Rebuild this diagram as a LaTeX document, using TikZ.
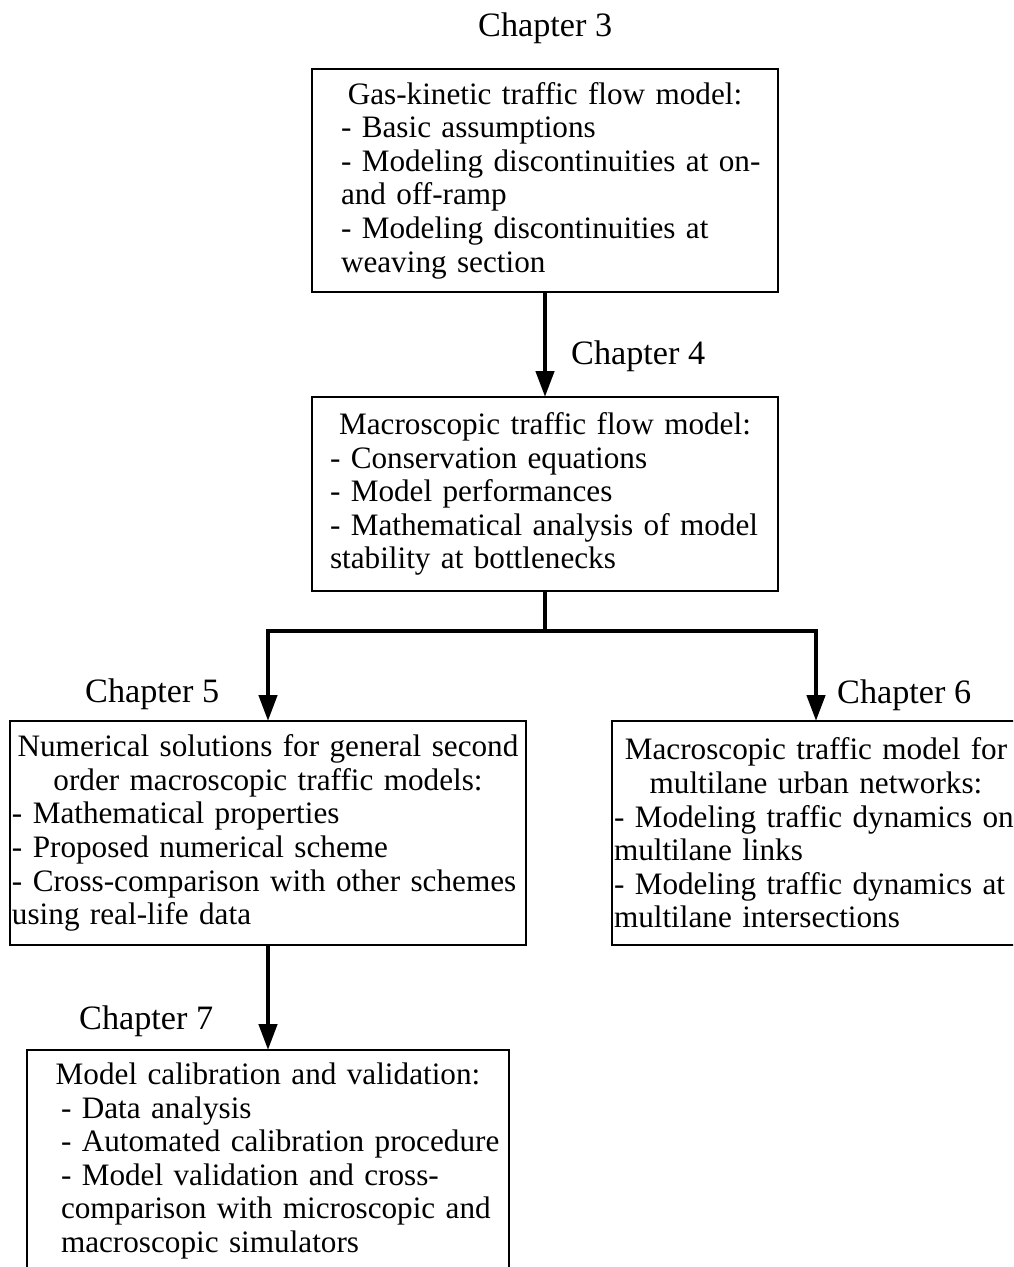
\documentclass[tikz,border=0pt]{standalone}
\usepackage{fontspec}
\setmainfont{Liberation Serif}
\usetikzlibrary{arrows.meta}
\tikzset{
  box/.style={draw, line width=2.8pt, rectangle, inner ysep=0pt, outer sep=0pt, align=left,
              font=\fontsize{31.2pt}{33.6pt}\selectfont},
  chap/.style={inner sep=0pt, anchor=base west, font=\fontsize{34.2pt}{36pt}\selectfont},
  conn/.style={line width=4.5pt},
  arr/.style={line width=4.5pt, -{Triangle[length=26pt,width=18pt]}},
  darr/.style={line width=4.5pt, {Triangle[length=26pt,width=18pt]}-{Triangle[length=26pt,width=18pt]}}
}
\newcommand{\ttl}[1]{\noindent\makebox[\hsize][c]{#1}}
\newcommand{\lft}[1]{\noindent\mbox{#1}}
\begin{document}
\begin{tikzpicture}[x=1pt,y=-1pt]
\useasboundingbox (0,0) rectangle (1013,1267);
\clip (0,0) rectangle (1013,1267);
\fill[white] (0,0) rectangle (1013,1267);

\node[box, anchor=north west, minimum width=466pt, minimum height=223pt,
      text width=408pt, inner xsep=0pt] (b1) at (312,69)
  {\ttl{Gas-kinetic traffic flow model:}\\
   \lft{- Basic assumptions}\\
   \lft{- Modeling discontinuities at on-}\\
   \lft{and off-ramp}\\
   \lft{- Modeling discontinuities at}\\
   \lft{weaving section}};

\node[box, anchor=north west, minimum width=466pt, minimum height=194pt,
      text width=430pt, inner xsep=0pt] (b2) at (312,397)
  {\ttl{Macroscopic traffic flow model:}\\
   \lft{- Conservation equations}\\
   \lft{- Model performances}\\
   \lft{- Mathematical analysis of model}\\
   \lft{stability at bottlenecks}};

\node[box, anchor=north west, minimum width=516pt, minimum height=224pt,
      text width=512pt, inner xsep=0pt] (b3) at (10,721)
  {\ttl{Numerical solutions for general second}\\
   \ttl{order macroscopic traffic models:}\\
   \lft{- Mathematical properties}\\
   \lft{- Proposed numerical scheme}\\
   \lft{- Cross-comparison with other schemes}\\
   \lft{using real-life data}};

\node[box, anchor=north west, minimum width=408pt, minimum height=224pt,
      text width=404pt, inner xsep=0pt] (b4) at (612,721)
  {\ttl{Macroscopic traffic model for}\\
   \ttl{multilane urban networks:}\\
   \lft{- Modeling traffic dynamics on}\\
   \lft{multilane links}\\
   \lft{- Modeling traffic dynamics at}\\
   \lft{multilane intersections}};

\node[box, anchor=north west, minimum width=482pt, minimum height=222pt,
      text width=414pt, inner xsep=0pt] (b5) at (27,1050)
  {\ttl{Model calibration and validation:}\\
   \lft{- Data analysis}\\
   \lft{- Automated calibration procedure}\\
   \lft{- Model validation and cross-}\\
   \lft{comparison with microscopic and}\\
   \lft{macroscopic simulators}};

\node[chap] (c3) at (478,36) {Chapter 3};
\node[chap] (c4) at (571,364) {Chapter 4};
\node[chap] (c5) at (85,702) {Chapter 5};
\node[chap] (c6) at (837,703) {Chapter 6};
\node[chap] (c7) at (79,1029) {Chapter 7};

\coordinate (jn) at (b2.south |- 0,631);
\draw[arr] (b1.south) -- (b2.north);
\draw[conn] (b2.south) -- (jn);
\draw[darr] (b3.north) |- (jn) -| (b4.north);
\draw[arr] (b3.south) -- (b5.north);
\end{tikzpicture}
\end{document}
